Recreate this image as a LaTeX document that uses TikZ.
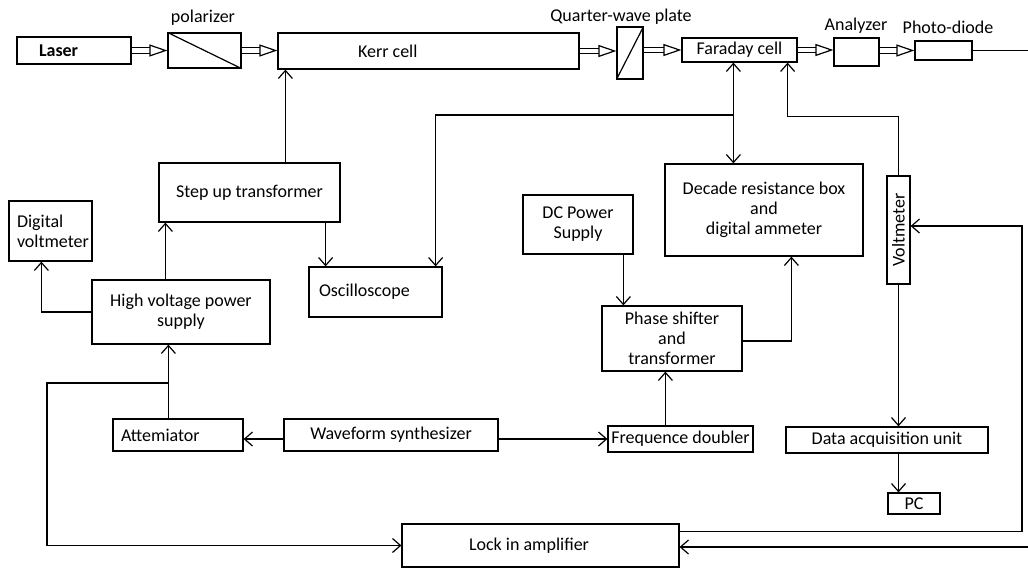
\documentclass[tikz,border=0pt]{standalone}
\usepackage{fontspec}
\setmainfont{Carlito}
\usetikzlibrary{arrows.meta,calc}
\begin{document}
\begin{tikzpicture}[x=1pt,y=-1pt, font=\fontsize{18}{20}\selectfont,
  box/.style={draw, line width=1.2pt, inner sep=0pt, align=center},
  lbox/.style={box, align=flush left},
  conn/.style={line width=1.2pt, -{Straight Barb[length=8pt,width=14pt]}},
  wire/.style={line width=1.2pt},
  beam/.style={double, double distance=4.5pt, line width=1.2pt, -{Triangle[open,length=18pt,width=12pt,line width=1.2pt 0 0]}},
]
\useasboundingbox (0,0) rectangle (1028,568);

% optical line
\node[lbox, minimum height=27pt, text width=70pt, inner xsep=22pt, font=\fontsize{18}{20}\selectfont\bfseries] (laser) at (74,50.5) {Laser};
\node[box, minimum width=73pt, minimum height=35pt] (polar) at (204.5,50.5) {};
\node[lbox, minimum height=36pt, text width=141pt, inner xsep=80pt] (kerr) at (428.5,51) {Kerr cell};
\node[box, minimum width=26pt, minimum height=52pt] (qwp) at (630,53) {};
\node[box, minimum width=115pt, minimum height=24pt] (faraday) at (739.5,50) {Faraday cell};
\node[box, minimum width=45pt, minimum height=28pt] (analyzer) at (856.5,52) {};
\node[box, minimum width=57pt, minimum height=19pt] (photo) at (943.5,50.5) {};

\node (lpol) at (203,18) {polarizer};
\node (lqwp) at (621,17) {Quarter-wave plate};
\node (lana) at (856,26) {Analyzer};
\node (lpho) at (948,27) {Photo-diode};

\draw[wire] (polar.north west) -- (polar.south east);
\draw[wire] (qwp.south west) -- (qwp.north east);

% other boxes
\node[box, minimum width=181pt, minimum height=59pt] (stepup) at (249.5,192.5) {Step up transformer};
\node[lbox, minimum height=60pt, text width=67pt, inner xsep=8pt] (dv) at (50.5,231) {Digital\\voltmeter};
\node[box, minimum width=178pt, minimum height=64pt] (hv) at (181,312) {High voltage power\\supply};
\node[lbox, minimum height=50pt, text width=113pt, inner xsep=10pt] (osc) at (375.5,292) {Oscilloscope};
\node[box, minimum width=198pt, minimum height=92pt] (decade) at (764,210) {Decade resistance box\\and\\digital ammeter};
\node[box, minimum width=110pt, minimum height=59pt] (dc) at (578,224.5) {DC Power\\Supply};
\node[box, minimum width=23pt, minimum height=108pt] (voltm) at (898.5,230) {};
\node[rotate=90] (lvolt) at (voltm) {Voltmeter};
\node[box, minimum width=140pt, minimum height=65pt] (phase) at (672,338.5) {Phase shifter\\and\\transformer};
\node[box, minimum width=145pt, minimum height=26pt] (freq) at (680.5,439) {Frequence doubler};
\node[box, minimum width=214pt, minimum height=32pt] (wave) at (391,435) {Waveform synthesizer};
\node[lbox, minimum height=32pt, text width=114pt, inner xsep=8pt] (att) at (178,435) {Attemiator};
\node[lbox, minimum height=43pt, text width=143pt, inner xsep=67pt] (lock) at (540.5,545.5) {Lock in amplifier};
\node[box, minimum width=202pt, minimum height=26pt] (da) at (887,440) {Data acquisition unit};
\node[box, minimum width=52pt, minimum height=21pt] (pc) at (914,503.5) {PC};

% beam arrows
\draw[beam] (laser.east) -- (laser.east -| polar.west);
\draw[beam] (polar.east) -- (polar.east -| kerr.west);
\draw[beam] (kerr.east) -- (kerr.east -| qwp.west);
\draw[beam] (faraday.west -| qwp.east) -- (faraday.west);
\draw[beam] (faraday.east) -- (faraday.east -| analyzer.west);
\draw[beam] (photo.west -| analyzer.east) -- (photo.west);
\coordinate (edgeT) at (1028,50.5);
\draw[wire] (photo.east) -- (edgeT);

% coordinates
\coordinate (kin) at ([xshift=8pt]kerr.south west);
\coordinate (hvup) at ([xshift=74pt]hv.north west);
\coordinate (dvin) at ([xshift=33pt]dv.south west);
\coordinate (sout) at ([xshift=-15pt]stepup.south east);
\coordinate (fd1) at ([xshift=52pt]faraday.south west);
\coordinate (fd2) at ([xshift=-10pt]faraday.south east);
\coordinate (j1) at (734,115);
\coordinate (oscin) at ([xshift=-7pt]osc.north east);
\coordinate (lockT) at ([yshift=-8pt]lock.north east);
\coordinate (rr) at (1022,226);
\coordinate (edgeB) at (1028,547);
\coordinate (attup) at ([xshift=56pt]att.north west);
\coordinate (j2) at (169,383);
\coordinate (lf) at (47,383);
\coordinate (fu) at ([xshift=58pt]freq.north west);
\coordinate (dcd) at ([xshift=101pt]dc.south west);
\coordinate (pr) at ([yshift=-2.5pt]phase.east);
\coordinate (du) at ([xshift=127pt]decade.south west);
\coordinate (wl) at ([yshift=-4pt]wave.west);
\coordinate (wr) at ([yshift=-4pt]wave.east);

% connectors
\draw[conn] (kin |- stepup.north) -- (kin);
\draw[conn] (hvup) -- (hvup |- stepup.south);
\draw[conn] (hv.west) -- (hv.west -| dvin) -- (dvin);
\draw[conn] (sout) -- (sout |- osc.north);
\draw[conn, {Straight Barb[length=8pt,width=14pt]}-{Straight Barb[length=8pt,width=14pt]}] (fd1) -- (fd1 |- decade.north);
\draw[conn] (j1) -- (j1 -| oscin) -- (oscin);
\draw[conn] (voltm.north) -- ([yshift=59pt]voltm.north) -| (fd2);
\draw[conn] (voltm.south) -- (voltm.south |- da.north);
\draw[conn] (da.south -| voltm.south) -- (pc.north -| voltm.south);
\draw[conn] (lockT) -| (rr) -- (rr -| voltm.east);
\draw[conn] (edgeB) -- (edgeB -| lock.east);
\draw[conn] (attup) -- (attup |- hv.south);
\draw[conn] (j2) -- (lf) |- (lock.west);
\draw[conn] (wl) -- (wl -| att.east);
\draw[conn] (wr) -- (wr -| freq.west);
\draw[conn] (fu) -- (fu |- phase.south);
\draw[conn] (dcd) -- (dcd |- phase.north);
\draw[conn] (pr) -| (du);
\end{tikzpicture}
\end{document}
